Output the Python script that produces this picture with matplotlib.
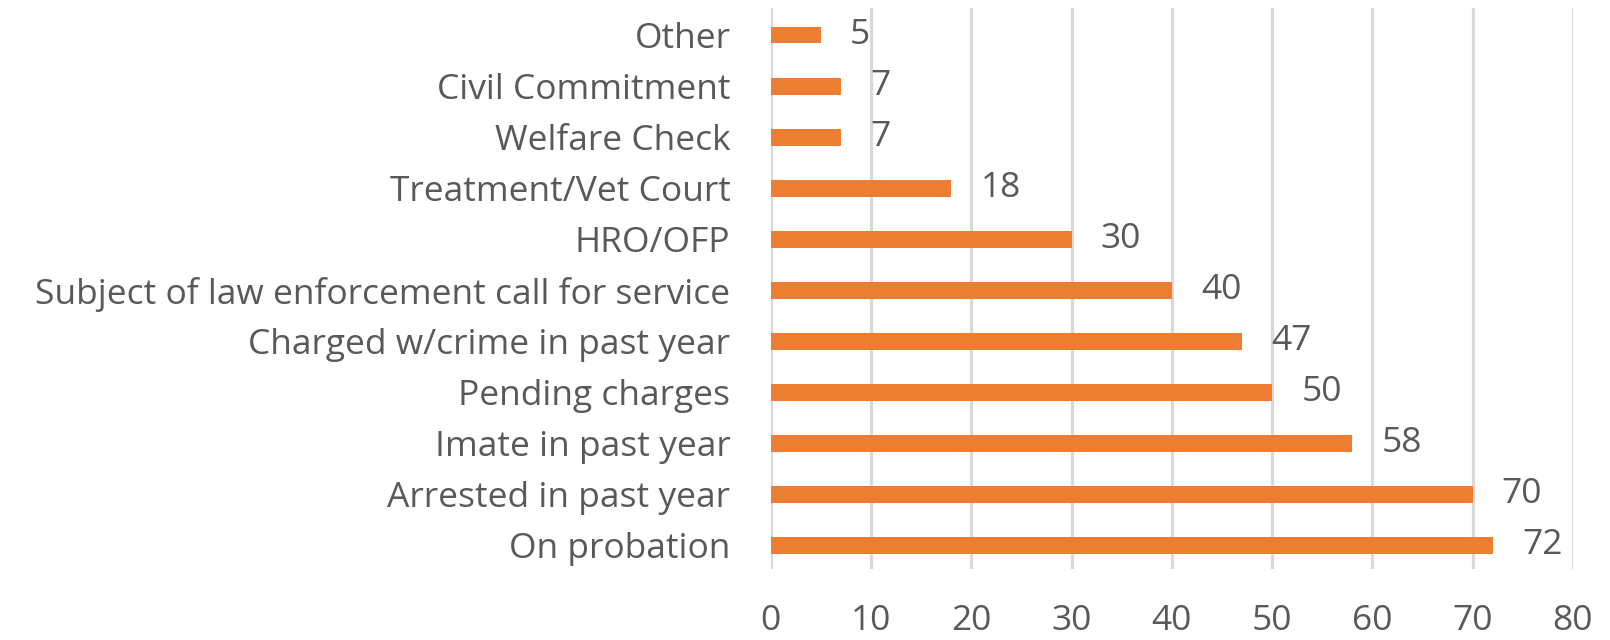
import matplotlib.pyplot as plt
import numpy as np

# data, top of chart first
categories = ['Other', 'Civil Commitment', 'Welfare Check', 'Treatment/Vet Court',
              'HRO/OFP', 'Subject of law enforcement call for service',
              'Charged w/crime in past year', 'Pending charges', 'Imate in past year',
              'Arrested in past year', 'On probation']
values = [5, 7, 7, 18, 30, 40, 47, 50, 58, 70, 72]
xticks = [0, 10, 20, 30, 40, 50, 60, 70, 80]

plt.rcParams['font.family'] = ['Open Sans', 'DejaVu Sans']
grey = '#595959'
orange = '#ED7D31'

fig = plt.figure(figsize=(16.10, 6.40), dpi=100)
ax = fig.add_axes([0.4787, 0.111, 0.4983, 0.8765])

# bottom bar is the last category
cats = categories[::-1]
vals = values[::-1]
ypos = np.arange(len(cats))
ax.barh(ypos, vals, height=0.33, color=orange, zorder=3)

for y, v in zip(ypos, vals):
    ax.annotate(str(v), (v, y), xytext=(21, 0), textcoords='offset points',
                va='center', ha='left', fontsize=25.5, color=grey)

ax.set_xlim(0, 80)
ax.set_ylim(-0.46, 10.53)
ax.set_xticks(xticks)
ax.set_yticks(ypos)
ax.set_yticklabels(cats)
ax.tick_params(axis='both', length=0, labelsize=25.5, labelcolor=grey)
ax.tick_params(axis='x', pad=25)
ax.tick_params(axis='y', pad=29)
ax.grid(axis='x', color='#d9d9d9', linewidth=2.3, zorder=0)
for s in ax.spines.values():
    s.set_visible(False)

plt.savefig('out.png', dpi=100)
